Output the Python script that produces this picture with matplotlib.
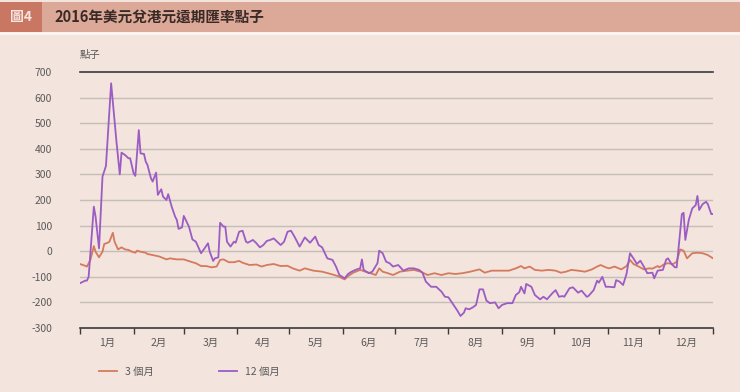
import matplotlib
matplotlib.use("Agg")
import matplotlib.pyplot as plt
from matplotlib.patches import Rectangle

plt.rcParams["font.family"] = ["Noto Sans CJK TC", "DejaVu Sans"]

# day of year (0 = 1 Jan 2016) and forward points
days_12m = [0, 3, 4, 5, 8, 9, 11, 13, 15, 18, 21, 23, 24, 26, 28, 29, 31, 32, 34, 35,
            37, 38, 39, 41, 42, 44, 45, 47, 48, 50, 51, 53, 55, 56, 57, 59, 60, 63, 65, 67,
            70, 72, 74, 75, 77, 78, 80, 81, 83, 84, 85, 87, 89, 90, 92, 94, 96, 97, 100, 102,
            104, 106, 108, 110, 112, 114, 116, 118, 120, 122, 124, 127, 130, 133, 136, 138, 140, 143, 146, 148,
            150, 153, 155, 157, 160, 162, 163, 164, 167, 169, 172, 173, 175, 177, 179, 181, 184, 187, 190, 193,
            196, 198, 200, 203, 206, 209, 211, 213, 216, 218, 220, 222, 223, 225, 227, 229, 231, 233, 235, 237,
            240, 242, 244, 247, 250, 252, 254, 255, 257, 258, 261, 263, 266, 268, 270, 273, 275, 277, 279, 280,
            283, 285, 288, 290, 293, 294, 297, 299, 300, 302, 304, 306, 309, 310, 312, 314, 316, 318, 320, 322,
            324, 326, 328, 331, 332, 334, 337, 339, 340, 342, 344, 345, 348, 349, 350, 352, 354, 356, 357, 358,
            360, 362, 363, 365, 366]
pts_12m = [-125, -115, -115, -100, 174, 135, 11, 291, 333, 656, 434, 300, 385, 376, 363, 363, 304, 294, 473, 382,
           380, 350, 337, 285, 272, 307, 220, 242, 213, 200, 223, 174, 135, 122, 87, 93, 138, 96, 46, 37,
           -8, 11, 31, -2, -38, -28, -24, 111, 96, 96, 37, 18, 37, 33, 76, 80, 37, 33, 44, 31,
           15, 24, 40, 44, 50, 37, 24, 37, 76, 80, 57, 18, 54, 33, 57, 24, 15, -28, -34, -60,
           -93, -106, -89, -80, -71, -67, -32, -73, -86, -80, -47, 2, -8, -41, -47, -60, -54, -76, -67, -67,
           -73, -84, -119, -139, -139, -158, -178, -180, -210, -230, -253, -240, -223, -227, -220, -210, -149, -149, -193, -203,
           -200, -223, -210, -203, -203, -171, -160, -139, -165, -128, -139, -171, -188, -178, -188, -165, -152, -178, -175, -178,
           -145, -141, -162, -154, -178, -175, -152, -115, -123, -100, -139, -139, -141, -113, -119, -132, -89, -8, -28, -50,
           -37, -60, -86, -84, -106, -76, -73, -32, -28, -50, -63, -63, 145, 150, 44, 122, 167, 180, 216, 161,
           184, 193, 184, 145, 145]

days_3m = [0, 3, 4, 6, 8, 9, 11, 13, 14, 16, 17, 19, 20, 22, 24, 26, 28, 30, 32, 33,
           35, 38, 39, 42, 46, 50, 52, 56, 60, 64, 67, 70, 73, 76, 79, 81, 83, 86, 89, 92,
           94, 98, 102, 105, 108, 112, 116, 120, 123, 127, 130, 135, 140, 145, 149, 153, 155, 158, 162, 165,
           168, 171, 173, 175, 178, 181, 185, 189, 193, 197, 201, 205, 209, 213, 217, 221, 225, 228, 231, 234,
           238, 243, 248, 252, 255, 257, 260, 263, 267, 271, 275, 278, 281, 284, 288, 292, 296, 299, 301, 304,
           306, 309, 313, 316, 318, 320, 323, 326, 329, 331, 334, 335, 338, 340, 343, 345, 347, 349, 351, 354,
           357, 360, 363, 366]
pts_3m = [-50, -57, -60, -34, 20, -2, -24, -2, 28, 33, 37, 72, 37, 7, 15, 7, 5, -2, -6, 2,
          -2, -6, -11, -15, -21, -32, -28, -32, -32, -41, -47, -58, -58, -63, -60, -34, -32, -43, -43, -38,
          -45, -54, -52, -60, -54, -50, -58, -57, -67, -76, -67, -76, -80, -89, -97, -110, -97, -84, -73, -80,
          -86, -93, -67, -80, -86, -93, -80, -76, -73, -80, -93, -86, -93, -86, -89, -86, -81, -76, -71, -84,
          -76, -76, -76, -67, -58, -67, -60, -73, -76, -73, -76, -84, -80, -73, -76, -80, -71, -60, -54, -63,
          -67, -60, -71, -58, -34, -50, -60, -71, -67, -68, -58, -63, -50, -47, -50, -41, 7, 2, -28, -8,
          -6, -8, -15, -28]

month_starts = [0, 31, 60, 91, 121, 152, 182, 213, 244, 274, 305, 335, 366]
month_labels = ["1月", "2月", "3月", "4月", "5月", "6月", "7月", "8月", "9月", "10月", "11月", "12月"]
y_ticks = list(range(-300, 701, 100))

BG = "#f3e4dd"
ORANGE = "#d57a5c"
PURPLE = "#9b5cc4"
TEXT = "#5a5a5a"

fig = plt.figure(figsize=(7.4, 3.92), dpi=100, facecolor=BG)

# header band with a pale strip underneath
fig.patches.append(Rectangle((0, 1 - 35 / 392), 1, 3 / 392, transform=fig.transFigure,
                             facecolor="#fbf3ef", edgecolor="none"))
fig.patches.append(Rectangle((0, 1 - 32 / 392), 1, 30 / 392, transform=fig.transFigure,
                             facecolor="#dca898", edgecolor="none"))
fig.patches.append(Rectangle((0, 1 - 32 / 392), 42 / 740, 30 / 392, transform=fig.transFigure,
                             facecolor="#c97662", edgecolor="none"))
fig.text(21 / 740, 1 - 17 / 392, "圖4", color="#f6e6e0", fontsize=10, fontweight="bold",
         ha="center", va="center")
fig.text(54 / 740, 1 - 17 / 392, "2016年美元兌港元遠期匯率點子", color="#3a2a26", fontsize=10.5,
         fontweight="bold", ha="left", va="center")

ax = fig.add_axes([80 / 740, 64 / 392, 633 / 740, 256 / 392])
ax.set_facecolor(BG)
ax.plot(days_3m, pts_3m, color=ORANGE, lw=1.3, label="3 個月")
ax.plot(days_12m, pts_12m, color=PURPLE, lw=1.3, label="12 個月")

ax.set_xlim(0, 366)
ax.set_ylim(-300, 700)
ax.set_yticks(y_ticks)
ax.set_yticklabels([str(v) for v in y_ticks])
for v in y_ticks[1:-1]:
    ax.axhline(v, color="#c4bdb8", lw=1, zorder=0)

for side in ("left", "right"):
    ax.spines[side].set_visible(False)
for side in ("top", "bottom"):
    ax.spines[side].set_color("#3a3a3a")
    ax.spines[side].set_linewidth(1.2)

ax.set_xticks(month_starts)
ax.set_xticklabels([""] * len(month_starts))
ax.set_xticks([(a + b) / 2 for a, b in zip(month_starts[:-1], month_starts[1:])], minor=True)
ax.set_xticklabels(month_labels, minor=True)
ax.tick_params(axis="x", which="major", length=4, width=1, color="#3a3a3a", direction="out")
ax.tick_params(axis="x", which="minor", length=0, pad=7, labelsize=7.5, labelcolor=TEXT)
ax.tick_params(axis="y", length=0, pad=20, labelsize=7.5, labelcolor=TEXT)
for lbl in ax.get_yticklabels():
    lbl.set_horizontalalignment("right")

fig.text(80 / 740, 1 - 55 / 392, "點子", color=TEXT, fontsize=7.5, ha="left", va="center")

fig.legend(loc="center left", bbox_to_anchor=(90 / 740, 20 / 392), ncol=2, frameon=False,
           fontsize=7.5, handlelength=1.7, handletextpad=0.8, columnspacing=6.2,
           labelcolor=TEXT)

fig.savefig("out.png", dpi=100, facecolor=BG)
